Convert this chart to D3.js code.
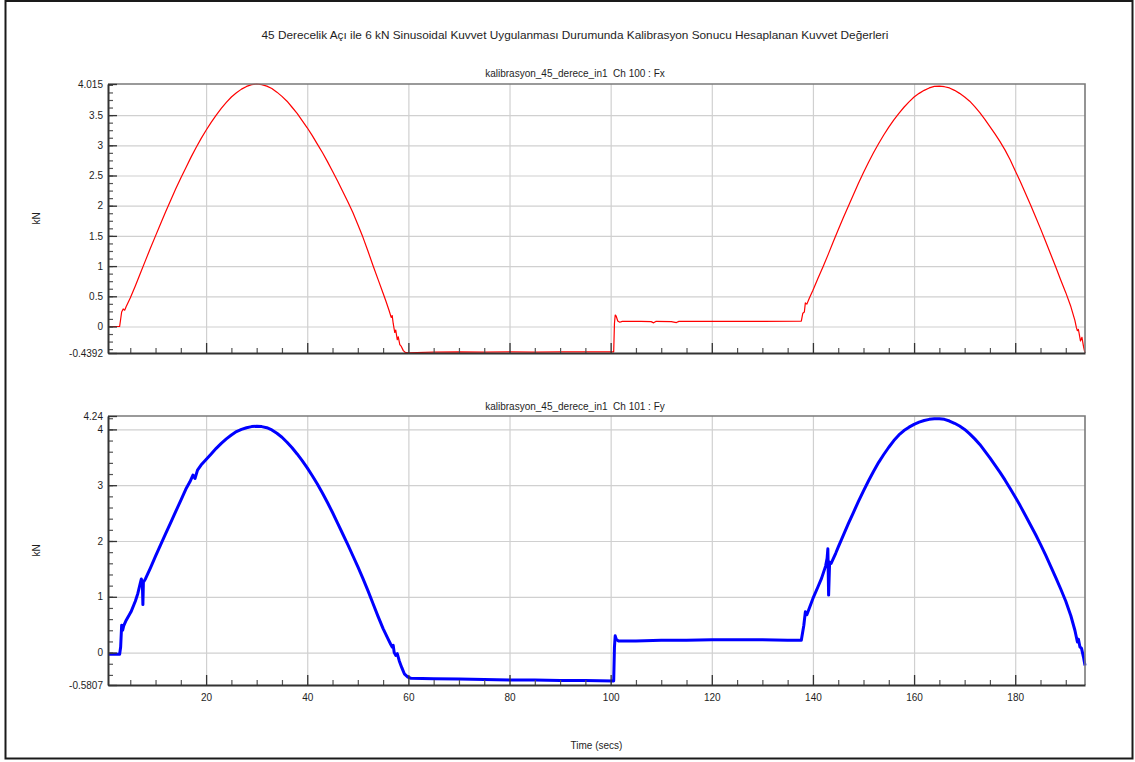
<!DOCTYPE html>
<html>
<head>
<meta charset="utf-8">
<script src="https://cdn.jsdelivr.net/npm/d3@7"></script>
<style>
    body { margin: 0; background: #fff; }
    svg text { font-family: "Liberation Sans", Arial, sans-serif; fill: #1e1e1e; }
    .grid line { stroke: #d0d0d0; stroke-width: 1.2; }
    .grid path { display: none; }
    .axis path { stroke: #333; stroke-width: 2; }
    .axis line { stroke: #333; stroke-width: 1.3; }
    .minor line { stroke: #555; stroke-width: 1.2; }
    .minor path { display: none; }
</style>
</head>
<body>
<div id="chart"></div>
<script>
    var chartTitle = "45 Derecelik Açı ile 6 kN Sinusoidal Kuvvet Uygulanması Durumunda Kalibrasyon Sonucu Hesaplanan Kuvvet Değerleri";
    var fxTitle = "kalibrasyon_45_derece_in1  Ch 100 : Fx";
    var fyTitle = "kalibrasyon_45_derece_in1  Ch 101 : Fy";
    var yLabel = "kN";
    var xLabel = "Time (secs)";

    var timeDomain = [0.6, 193.8];
    var xTickValues = [20, 40, 60, 80, 100, 120, 140, 160, 180];
    var fxTickValues = [-0.4392, 0, 0.5, 1, 1.5, 2, 2.5, 3, 3.5, 4.015];
    var fyTickValues = [-0.5807, 0, 1, 2, 3, 4, 4.24];

    // Ch 100 : Fx
    var fxTimes = [0.6, 2.9, 3.1, 3.3, 3.6, 3.9, 4.2, 5, 6, 7, 8, 9, 10, 11, 12, 13, 14, 15, 16, 17,
        18, 19, 20, 21, 22, 23, 24, 25, 26, 27, 28, 29, 30, 31, 32, 33, 34, 35, 36, 37,
        38, 39, 40, 41, 42, 43, 44, 45, 46, 47, 48, 49, 50, 51, 52, 53, 54, 55, 55.6, 56.2,
        56.6, 56.8, 57.0, 57.3, 57.5, 57.8, 58.0, 58.3, 58.6, 59.0, 59.4, 60.0, 65, 70, 75, 80, 85, 90, 95, 100.6,
        100.75, 100.9, 101.1, 101.4, 101.8, 102.3, 106, 108, 108.5, 109, 112, 113, 113.5, 118, 124, 130, 137.7, 138.0, 138.3, 138.5,
        138.8, 139.3, 140, 141, 142, 143, 144, 145, 146, 147, 148, 149, 150, 151, 152, 153, 154, 155, 156, 157,
        158, 159, 160, 161, 162, 163, 164, 165, 166, 167, 168, 169, 170, 171, 172, 173, 174, 175, 176, 177,
        178, 179, 180, 181, 182, 183, 184, 185, 186, 187, 188, 189, 190, 191, 191.8, 192.1, 192.3, 192.5, 192.9, 193.2,
        193.5, 193.8];
    var fxValues = [0, 0, 0.12, 0.24, 0.29, 0.27, 0.33, 0.47, 0.67, 0.88, 1.09, 1.30, 1.50, 1.70, 1.90, 2.09, 2.28, 2.46, 2.63, 2.80,
        2.96, 3.11, 3.25, 3.38, 3.50, 3.61, 3.71, 3.80, 3.87, 3.93, 3.975, 4.005, 4.015, 4.005, 3.98, 3.94, 3.88, 3.81, 3.73, 3.63,
        3.53, 3.41, 3.29, 3.16, 3.02, 2.88, 2.73, 2.57, 2.41, 2.24, 2.07, 1.89, 1.69, 1.48, 1.25, 1.01, 0.78, 0.55, 0.41, 0.26,
        0.15, 0.18, 0.05, -0.10, -0.06, -0.22, -0.17, -0.30, -0.33, -0.40, -0.43, -0.435, -0.425, -0.42, -0.425, -0.42, -0.425, -0.42, -0.422, -0.42,
        0.05, 0.19, 0.17, 0.09, 0.07, 0.085, 0.085, 0.08, 0.06, 0.085, 0.08, 0.065, 0.085, 0.085, 0.085, 0.085, 0.09, 0.22, 0.24, 0.39,
        0.37, 0.47, 0.60, 0.80, 0.99, 1.19, 1.40, 1.60, 1.80, 1.99, 2.18, 2.37, 2.55, 2.72, 2.88, 3.03, 3.17, 3.30, 3.42, 3.53,
        3.63, 3.72, 3.80, 3.86, 3.91, 3.95, 3.975, 3.98, 3.97, 3.95, 3.91, 3.86, 3.80, 3.73, 3.64, 3.54, 3.43, 3.31, 3.19, 3.06,
        2.92, 2.76, 2.58, 2.40, 2.21, 2.02, 1.82, 1.62, 1.41, 1.20, 0.99, 0.77, 0.56, 0.33, 0.10, -0.02, -0.07, -0.05, -0.24, -0.18,
        -0.33, -0.4392];

    // Ch 101 : Fy
    var fyTimes = [0.6, 2.9, 3.1, 3.3, 3.5, 3.7, 4.2, 5.15, 6.0, 6.5, 7.0, 7.2, 7.4, 7.5, 7.6, 8, 9, 10, 11, 12,
        13, 14, 15, 16, 16.8, 17.4, 17.8, 18.3, 19, 20, 21, 22, 23, 24, 25, 26, 27, 28, 29, 30,
        31, 32, 33, 34, 35, 36, 37, 38, 39, 40, 41, 42, 43, 44, 45, 46, 47, 48, 49, 50,
        51, 52, 53, 54, 55, 56, 56.5, 56.8, 57.0, 57.2, 57.5, 57.8, 58.2, 58.7, 59.2, 59.9, 60.5, 65, 70, 75,
        80, 85, 90, 95, 100.6, 100.75, 100.9, 101.1, 101.5, 105, 110, 115, 120, 125, 130, 135, 137.7, 138.2, 138.5, 138.8,
        140, 141, 141.7, 142.5, 142.8, 142.95, 143.1, 143.3, 143.6, 144.5, 145, 146, 147, 148, 149, 150, 151, 152, 153, 154,
        155, 156, 157, 158, 159, 160, 161, 162, 163, 164, 165, 166, 167, 168, 169, 170, 171, 172, 173, 174,
        175, 176, 177, 178, 179, 180, 181, 182, 183, 184, 185, 186, 187, 188, 189, 190, 191, 191.8, 192.3, 192.5,
        192.8, 193.1, 193.5, 193.8];
    var fyValues = [-0.03, -0.03, 0.10, 0.49, 0.40, 0.48, 0.58, 0.73, 0.92, 1.06, 1.25, 1.32, 1.22, 0.86, 1.26, 1.32, 1.52, 1.73, 1.93, 2.13,
        2.33, 2.53, 2.73, 2.93, 3.06, 3.18, 3.12, 3.27, 3.36, 3.46, 3.56, 3.66, 3.75, 3.83, 3.90, 3.96, 4.00, 4.03, 4.05, 4.055,
        4.05, 4.03, 3.99, 3.93, 3.86, 3.77, 3.67, 3.56, 3.44, 3.31, 3.17, 3.02, 2.86, 2.69, 2.51, 2.32, 2.13, 1.94, 1.74, 1.54,
        1.33, 1.11, 0.88, 0.65, 0.43, 0.24, 0.15, 0.10, 0.13, 0.00, -0.05, -0.02, -0.15, -0.27, -0.38, -0.44, -0.46, -0.47, -0.475, -0.48,
        -0.49, -0.49, -0.50, -0.50, -0.51, 0.10, 0.30, 0.24, 0.21, 0.21, 0.22, 0.22, 0.23, 0.23, 0.23, 0.22, 0.22, 0.49, 0.73, 0.68,
        0.97, 1.18, 1.33, 1.55, 1.69, 1.86, 1.03, 1.62, 1.60, 1.78, 1.89, 2.10, 2.31, 2.51, 2.71, 2.90, 3.08, 3.25, 3.41, 3.55,
        3.68, 3.80, 3.90, 3.98, 4.04, 4.09, 4.13, 4.16, 4.18, 4.19, 4.19, 4.18, 4.15, 4.11, 4.06, 4.00, 3.92, 3.83, 3.73, 3.61,
        3.49, 3.36, 3.23, 3.09, 2.94, 2.79, 2.63, 2.46, 2.29, 2.12, 1.94, 1.75, 1.55, 1.35, 1.14, 0.92, 0.66, 0.40, 0.19, 0.24,
        0.10, 0.08, -0.08, -0.23];

    var width = 1135, height = 762;
    var left = 108, right = 1085;

    var svg = d3.select("#chart").append("svg")
            .attr("width", width)
            .attr("height", height);

    // outer frame
    svg.append("rect")
            .attr("x", 5.5).attr("y", 1)
            .attr("width", 1127).attr("height", 757.5)
            .attr("fill", "none")
            .attr("stroke", "#1a1a1a")
            .attr("stroke-width", 2);

    svg.append("text")
            .attr("x", 575).attr("y", 39)
            .attr("text-anchor", "middle")
            .style("font-size", "11.8px")
            .text(chartTitle);

    var x = d3.scaleLinear().domain(timeDomain).range([left, right]);

    drawPanel({
        top: 84, bottom: 353, title: fxTitle, titleY: 77,
        domain: [fxTickValues[0], fxTickValues[fxTickValues.length - 1]],
        ticks: fxTickValues, minorStep: 0.125, grid: [0, 0.5, 1, 1.5, 2, 2.5, 3, 3.5],
        times: fxTimes, values: fxValues, color: "#ff0000", lineWidth: 1.2, xLabels: false
    });
    drawPanel({
        top: 416, bottom: 685, title: fyTitle, titleY: 410,
        domain: [fyTickValues[0], fyTickValues[fyTickValues.length - 1]],
        ticks: fyTickValues, minorStep: 0.2, grid: [0, 1, 2, 3, 4],
        times: fyTimes, values: fyValues, color: "#0000ff", lineWidth: 3, xLabels: true
    });

    svg.append("text")
            .attr("x", (left + right) / 2).attr("y", 749)
            .attr("text-anchor", "middle")
            .style("font-size", "10px")
            .text(xLabel);

    function drawPanel(p) {
        var y = d3.scaleLinear().domain(p.domain).range([p.bottom, p.top]);
        var g = svg.append("g");

        // gridlines
        g.append("g")
                .attr("class", "grid")
                .attr("transform", "translate(0," + p.bottom + ")")
                .call(d3.axisBottom(x).tickValues(xTickValues).tickSize(-(p.bottom - p.top)).tickFormat(""));
        g.append("g")
                .attr("class", "grid")
                .attr("transform", "translate(" + left + ",0)")
                .call(d3.axisLeft(y).tickValues(p.grid).tickSize(-(right - left)).tickFormat(""));

        // data line
        var line = d3.line()
                .x(function(d) { return x(d[0]); })
                .y(function(d) { return y(d[1]); });
        g.append("path")
                .datum(p.times.map(function(t, i) { return [t, p.values[i]]; }))
                .attr("fill", "none")
                .attr("stroke", p.color)
                .attr("stroke-width", p.lineWidth)
                .attr("stroke-linejoin", "round")
                .attr("d", line);

        // frame top / right
        g.append("path")
                .attr("d", "M" + left + "," + p.top + "H" + right + "V" + p.bottom)
                .attr("fill", "none")
                .attr("stroke", "#7a7a7a")
                .attr("stroke-width", 1.6);

        // minor ticks
        var xMinor = d3.range(5, timeDomain[1], 5).filter(function(v) { return v % 20 !== 0; });
        g.append("g")
                .attr("class", "minor")
                .attr("transform", "translate(0," + p.bottom + ")")
                .call(d3.axisBottom(x).tickValues(xMinor).tickSize(-5).tickFormat(""));
        var yMinor = d3.range(Math.ceil(p.domain[0] / p.minorStep) * p.minorStep, p.domain[1], p.minorStep);
        g.append("g")
                .attr("class", "minor")
                .attr("transform", "translate(" + left + ",0)")
                .call(d3.axisLeft(y).tickValues(yMinor).tickSize(-5).tickFormat(""));

        // main axes
        var xAxis = g.append("g")
                .attr("class", "axis")
                .attr("transform", "translate(0," + p.bottom + ")")
                .call(d3.axisBottom(x).tickValues(xTickValues).tickSizeInner(-10).tickSizeOuter(0).tickPadding(9)
                        .tickFormat(p.xLabels ? d3.format("d") : ""));
        xAxis.selectAll("text").style("font-size", "10px").attr("fill", "#1e1e1e");

        var yAxis = g.append("g")
                .attr("class", "axis")
                .attr("transform", "translate(" + left + ",0)")
                .call(d3.axisLeft(y).tickValues(p.ticks).tickSizeInner(-9).tickSizeOuter(0).tickPadding(5)
                        .tickFormat(function(d) { return String(d); }));
        yAxis.selectAll("text").style("font-size", "10px").attr("fill", "#1e1e1e");

        // titles
        svg.append("text")
                .attr("x", 575).attr("y", p.titleY)
                .attr("text-anchor", "middle")
                .style("font-size", "10px")
                .style("white-space", "pre")
                .text(p.title);
        svg.append("text")
                .attr("transform", "translate(40," + ((p.top + p.bottom) / 2) + ") rotate(-90)")
                .attr("text-anchor", "middle")
                .style("font-size", "10px")
                .text(yLabel);
    }
</script>
</body>
</html>
